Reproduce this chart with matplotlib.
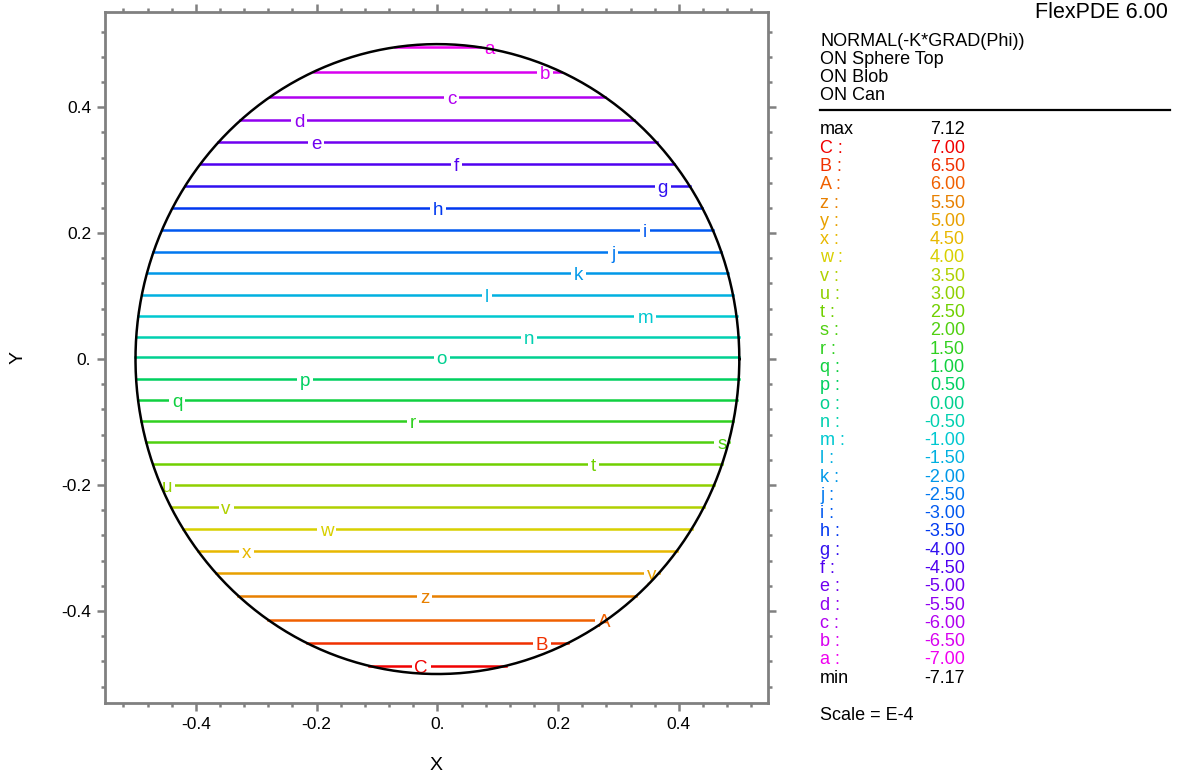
import numpy as np
from matplotlib import pyplot as plt
from matplotlib.ticker import MultipleLocator, FuncFormatter

plt.rcParams['font.family'] = ['Liberation Sans', 'DejaVu Sans']

# contour labels, values and the height (y) where each line crosses the disc
labels = ['a', 'b', 'c', 'd', 'e', 'f', 'g', 'h', 'i', 'j', 'k', 'l', 'm', 'n', 'o',
          'p', 'q', 'r', 's', 't', 'u', 'v', 'w', 'x', 'y', 'z', 'A', 'B', 'C']
levels = [-7.0, -6.5, -6.0, -5.5, -5.0, -4.5, -4.0, -3.5, -3.0, -2.5, -2.0, -1.5, -1.0, -0.5, 0.0,
          0.5, 1.0, 1.5, 2.0, 2.5, 3.0, 3.5, 4.0, 4.5, 5.0, 5.5, 6.0, 6.5, 7.0]
line_y = [0.495, 0.456, 0.416, 0.379, 0.344, 0.310, 0.275, 0.240, 0.205, 0.170, 0.137, 0.102, 0.068, 0.035, 0.003,
          -0.032, -0.065, -0.098, -0.132, -0.167, -0.200, -0.235, -0.270, -0.305, -0.340, -0.376, -0.414, -0.451, -0.487]
label_x = [0.087, 0.178, 0.024, -0.229, -0.201, 0.032, 0.373, 0.001, 0.344, 0.291, 0.233, 0.082, 0.344, 0.152, 0.007,
           -0.219, -0.431, -0.041, 0.471, 0.259, -0.448, -0.350, -0.183, -0.316, 0.355, -0.021, 0.276, 0.173, -0.027]
colors = ['#f000f0', '#d800f0', '#b000f0', '#9000f0', '#7000f0', '#5000f0', '#3010f0', '#0038f0', '#0058f0',
          '#0078f0', '#0098e8', '#00b0e0', '#00c8d0', '#00d0b0', '#00d090', '#00d060', '#10d040', '#30d020',
          '#50d010', '#70d000', '#90d000', '#b0d000', '#d8d000', '#e8b800', '#e8a000', '#e88000', '#f06000',
          '#f03000', '#f00000']
vmax = 7.12
vmin = -7.17
R = 0.5

W, H = 1178, 774
fig = plt.figure(figsize=(W/100, H/100), dpi=100)
ax = fig.add_axes([105/W, 1-703/H, 663/W, 691/H])

for lab, y, lx, c in zip(labels, line_y, label_x, colors):
    xc = np.sqrt(R**2 - y**2)
    ax.plot([-xc, xc], [y, y], color=c, lw=1.8, zorder=2)
    ax.text(lx, y - 0.004, lab, color=c, fontsize=13.5, ha='center', va='center', zorder=3,
            bbox=dict(fc='white', ec='none', pad=2))

t = np.linspace(0, 2*np.pi, 400)
ax.plot(R*np.cos(t), R*np.sin(t), color='black', lw=1.8, zorder=4)

ax.set_xlim(-0.5505, 0.5475)
ax.set_ylim(-0.546, 0.551)
gray = '#808080'
for s in ax.spines.values():
    s.set_color(gray)
    s.set_linewidth(2)
ax.xaxis.set_major_locator(MultipleLocator(0.2))
ax.xaxis.set_minor_locator(MultipleLocator(0.04))
ax.yaxis.set_major_locator(MultipleLocator(0.2))
ax.yaxis.set_minor_locator(MultipleLocator(0.04))
fmt = FuncFormatter(lambda v, p: '0.' if abs(v) < 1e-9 else f'{v:.1f}')
ax.xaxis.set_major_formatter(fmt)
ax.yaxis.set_major_formatter(fmt)
ax.tick_params(which='both', direction='out', color=gray, width=1.8,
               top=True, right=True, labelsize=12.5, pad=4)
ax.tick_params(which='major', length=6)
ax.tick_params(which='minor', length=3)
ax.set_xlabel('X', fontsize=14, va='center')
ax.xaxis.set_label_coords(0.5, (703-765)/691)
ax.set_ylabel('Y', fontsize=14, va='center')
ax.yaxis.set_label_coords((18-105)/663, 0.5)


def ftext(x, y, s, **kw):
    fig.text(x/W, 1-y/H, s, va='center', fontsize=13, **kw)


fig.text(1168/W, 1-18/H, 'FlexPDE 6.00', ha='right', va='baseline', fontsize=15.5)
for i, s in enumerate(['NORMAL(-K*GRAD(Phi))', 'ON Sphere Top', 'ON Blob', 'ON Can']):
    ftext(820, 42 + i*17.7, s)
fig.add_artist(plt.Line2D([820/W, 1170/W], [1-110/H, 1-110/H], color='black', lw=1.6))

row = 18.27
ftext(820, 130, 'max')
ftext(965, 130, f'{vmax:.2f}', ha='right')
for i, (lab, v, c) in enumerate(zip(labels[::-1], levels[::-1], colors[::-1])):
    y = 130 + (i+1)*row
    ftext(820, y, lab + ' :', color=c)
    ftext(965, y, f'{v:.2f}', color=c, ha='right')
ftext(820, 130 + 30*row, 'min')
ftext(965, 130 + 30*row, f'{vmin:.2f}', ha='right')
ftext(820, 715, 'Scale = E-4')

plt.savefig('out.png')
